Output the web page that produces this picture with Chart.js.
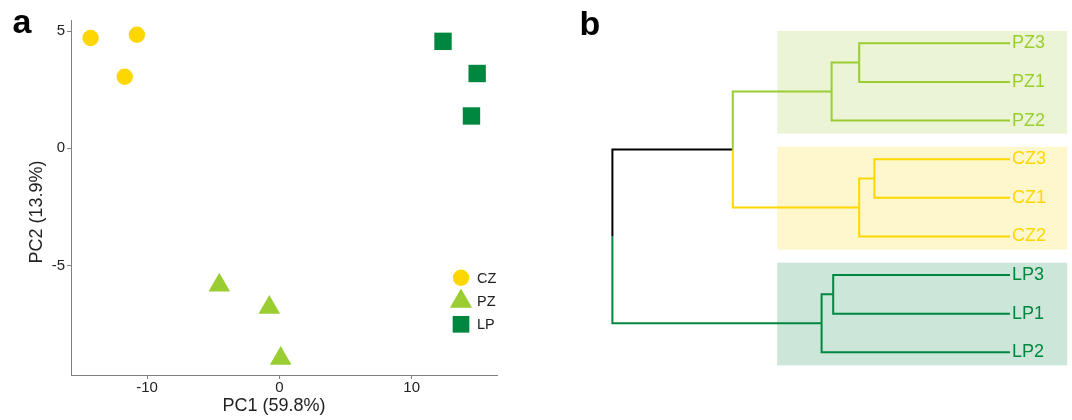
<!DOCTYPE html>
<html>
<head>
<meta charset="utf-8">
<script src="https://cdn.jsdelivr.net/npm/chart.js@4.4.1/dist/chart.umd.min.js"></script>
<style>
  html, body { margin: 0; padding: 0; background: #fff; }
  #wrap { position: relative; width: 1072px; height: 420px; overflow: hidden; }
  .panel { position: absolute; top: 0; height: 420px; }
  #pcaBox { left: 0; width: 540px; }
  #treeBox { left: 560px; width: 512px; }
</style>
</head>
<body>
<div id="wrap">
  <div class="panel" id="pcaBox"><canvas id="pca" width="540" height="420"></canvas></div>
  <div class="panel" id="treeBox"><canvas id="tree" width="512" height="420"></canvas></div>
</div>
<script>
// groups
const groups = ['CZ', 'PZ', 'LP'];
const groupColors = ['#FFD700', '#9ACD32', '#00873F'];
const groupShapes = ['circle', 'triangle', 'rect'];

// panel a: PCA scores
const czPC1 = [-14.27, -10.77, -11.69];
const czPC2 = [4.70, 4.84, 3.05];
const pzPC1 = [-4.54, -0.76, 0.10];
const pzPC2 = [-5.83, -6.78, -8.96];
const lpPC1 = [12.37, 14.95, 14.52];
const lpPC2 = [4.56, 3.19, 1.38];

const pc1Ticks = [-10, 0, 10];
const pc2Ticks = [-5, 0, 5];

// panel b: dendrogram, leaves top to bottom
const leafNames = ['PZ3', 'PZ1', 'PZ2', 'CZ3', 'CZ1', 'CZ2', 'LP3', 'LP1', 'LP2'];
const leafGroups = ['PZ', 'PZ', 'PZ', 'CZ', 'CZ', 'CZ', 'LP', 'LP', 'LP'];
// hclust style: negative = leaf number, positive = earlier merge
const mergeLeft = [-1, 1, -4, 3, 2, -7, 6, 5];
const mergeRight = [-2, -3, -5, -6, 4, -8, -9, 7];
const mergeHeight = [37.7, 44.6, 33.9, 37.7, 69.3, 44.2, 47.1, 99.4];

const FONT = "'Liberation Sans', Arial, Helvetica, sans-serif";
const TEXT = '#222';
const AXIS = '#808080';

function colorOf(g) {
    return groupColors[groups.indexOf(g)];
}

// bold panel letter
const panelTag = {
    id: 'panelTag',
    afterDraw(chart, args, opts) {
        const ctx = chart.ctx;
        ctx.save();
        ctx.fillStyle = '#000';
        ctx.font = 'bold 34px ' + FONT;
        ctx.textBaseline = 'alphabetic';
        ctx.fillText(opts.text, opts.x, opts.y);
        ctx.restore();
    }
};

// ---------- panel a ----------
const pointSizes = [8.2, 12.5, 12.3];
const legendSizes = [8.2, 12.8, 11.8];

const pcaData = [[czPC1, czPC2], [pzPC1, pzPC2], [lpPC1, lpPC2]];
const pcaSets = pcaData.map((xy, g) => ({
    label: groups[g],
    data: xy[0].map((x, i) => ({ x: x, y: xy[1][i] })),
    pointStyle: groupShapes[g],
    pointRadius: pointSizes[g],
    pointHoverRadius: pointSizes[g],
    pointBackgroundColor: groupColors[g],
    pointBorderWidth: 0,
    pointHoverBorderWidth: 0
}));

// legend drawn inside the panel, bottom right
const pcaLegend = {
    id: 'pcaLegend',
    afterDraw(chart) {
        const ctx = chart.ctx;
        const ys = [277.7, 301.4, 324.3];
        chart.data.datasets.forEach((ds, i) => {
            ctx.save();
            ctx.fillStyle = ds.pointBackgroundColor;
            Chart.helpers.drawPoint(ctx, {
                pointStyle: ds.pointStyle, radius: legendSizes[i], rotation: 0, borderWidth: 0
            }, 461, ys[i]);
            ctx.fillStyle = TEXT;
            ctx.font = '14.5px ' + FONT;
            ctx.textBaseline = 'middle';
            ctx.textAlign = 'left';
            ctx.fillText(ds.label, 477, ys[i] + 1);
            ctx.restore();
        });
    }
};

// axis titles (placed like the original figure, not centred on panel)
const axisTitles = {
    id: 'axisTitles',
    afterDraw(chart) {
        const ctx = chart.ctx;
        ctx.save();
        ctx.fillStyle = TEXT;
        ctx.font = '18px ' + FONT;
        ctx.textAlign = 'center';
        ctx.textBaseline = 'middle';
        ctx.fillText('PC1 (59.8%)', 274, 406);
        ctx.translate(37, 212);
        ctx.rotate(-Math.PI / 2);
        ctx.fillText('PC2 (13.9%)', 0, 0);
        ctx.restore();
    }
};

function fixedTicks(values) {
    return function (scale) {
        scale.ticks = values.map(v => ({ value: v }));
    };
}

new Chart(document.getElementById('pca'), {
    type: 'scatter',
    data: { datasets: pcaSets },
    options: {
        responsive: false,
        animation: false,
        events: [],
        layout: { padding: { top: 20, right: 43, bottom: 0, left: 0 } },
        scales: {
            x: {
                type: 'linear',
                min: -15.75,
                max: 16.45,
                afterBuildTicks: fixedTicks(pc1Ticks),
                afterFit(scale) { scale.height = 45; },
                grid: { drawOnChartArea: false, drawTicks: true, tickLength: 4, color: AXIS },
                border: { display: true, color: AXIS, width: 1 },
                ticks: { padding: 0, color: TEXT, font: { family: FONT, size: 15 }, maxRotation: 0 }
            },
            y: {
                type: 'linear',
                min: -9.66,
                max: 5.47,
                afterBuildTicks: fixedTicks(pc2Ticks),
                afterFit(scale) { scale.width = 71; },
                grid: { drawOnChartArea: false, drawTicks: true, tickLength: 4, color: AXIS },
                border: { display: true, color: AXIS, width: 1 },
                ticks: { padding: 2, color: TEXT, font: { family: FONT, size: 15 } }
            }
        },
        plugins: {
            legend: { display: false },
            tooltip: { enabled: false },
            panelTag: { text: 'a', x: 12.5, y: 33 }
        }
    },
    plugins: [pcaLegend, axisTitles, panelTag]
});

// ---------- panel b ----------
const nodeY = [];
const nodeH = [];
const nodeGroup = [];

function nodeInfo(ref) {
    if (ref < 0) return { y: -ref, h: 0, g: leafGroups[-ref - 1] };
    return { y: nodeY[ref - 1], h: nodeH[ref - 1], g: nodeGroup[ref - 1] };
}

const treeSets = [];
mergeHeight.forEach((h, k) => {
    const a = nodeInfo(mergeLeft[k]);
    const b = nodeInfo(mergeRight[k]);
    const y = (a.y + b.y) / 2;
    nodeY.push(y);
    nodeH.push(h);
    nodeGroup.push(a.g && a.g === b.g ? a.g : null);
    [a, b].forEach(c => {
        treeSets.push({
            data: [{ x: h, y: y }, { x: h, y: c.y }, { x: c.h, y: c.y }],
            showLine: true,
            borderColor: c.g ? colorOf(c.g) : '#000',
            borderWidth: 2,
            pointRadius: 0,
            pointHoverRadius: 0,
            fill: false,
            tension: 0
        });
    });
});

// shaded boxes behind each cluster
const groupBoxes = {
    id: 'groupBoxes',
    beforeDraw(chart) {
        const { ctx, scales: { x, y } } = chart;
        groups.forEach(g => {
            const idx = leafGroups.map((lg, i) => lg === g ? i + 1 : null).filter(v => v !== null);
            const top = y.getPixelForValue(Math.min(...idx) - 0.32);
            const bottom = y.getPixelForValue(Math.max(...idx) + 0.34);
            const left = x.getPixelForValue(58.2);
            const right = x.getPixelForValue(-14.3);
            ctx.save();
            ctx.globalAlpha = 0.2;
            ctx.fillStyle = colorOf(g);
            ctx.fillRect(left, top, right - left, bottom - top);
            ctx.restore();
        });
    }
};

new Chart(document.getElementById('tree'), {
    type: 'scatter',
    data: { datasets: treeSets },
    options: {
        responsive: false,
        animation: false,
        events: [],
        layout: { padding: 0 },
        scales: {
            x: {
                type: 'linear',
                display: false,
                reverse: true,
                min: 0,
                max: 112.5
            },
            y: {
                type: 'linear',
                position: 'right',
                reverse: true,
                min: -0.121,
                max: 10.754,
                afterBuildTicks: fixedTicks(leafNames.map((n, i) => i + 1)),
                afterFit(scale) {
                    scale.width = 62;
                    scale.paddingTop = 0;
                    scale.paddingBottom = 0;
                },
                grid: { display: false, drawTicks: false },
                border: { display: false },
                ticks: {
                    padding: 2,
                    font: { family: FONT, size: 18 },
                    color: c => colorOf(leafGroups[c.index]),
                    callback: (v, i) => leafNames[i]
                }
            }
        },
        plugins: {
            legend: { display: false },
            tooltip: { enabled: false },
            panelTag: { text: 'b', x: 19.5, y: 34.5 }
        }
    },
    plugins: [groupBoxes, panelTag]
});
</script>
</body>
</html>
